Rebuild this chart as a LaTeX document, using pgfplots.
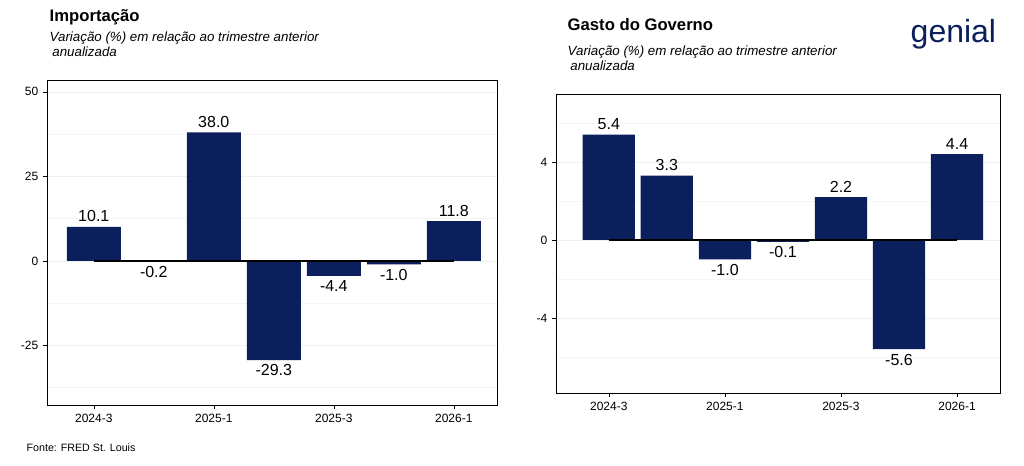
\documentclass[border=0pt]{standalone}
\usepackage{pgfplots}
\pgfplotsset{compat=1.18}
\usepackage{fontspec}
\setmainfont{Liberation Sans}
\definecolor{navy}{HTML}{0A1F5C}
\begin{document}
\begin{tikzpicture}[x=0.75pt,y=0.75pt]
\path (0,0) rectangle (1024,466);
\pgfplotsset{
 base/.style={scale only axis, axis line style={black}, tick align=outside,
  tick style={black}, major tick length=3pt, minor tick length=0pt, xtick pos=bottom, ytick pos=left,
  /pgf/number format/assume math mode=true,
  ticklabel style={font=\fontsize{9}{10}\selectfont},
  ymajorgrids, yminorgrids, major grid style={gray!12}, minor grid style={gray!8},
  xtick={0,2,4,6}, xticklabels={2024-3,2025-1,2025-3,2026-1},
  ybar, bar shift=0pt, bar width=0.9,
  nodes near coords, point meta=explicit symbolic,
  every node near coord/.append style={font=\fontsize{12}{13}\selectfont, black}},
}
\begin{axis}[base, at={(35.25pt,45.75pt)}, anchor=south west, width=337.5pt, height=243.75pt,
 xmin=-0.78, xmax=6.72, ymin=-42.6, ymax=53.5, ytick={-25,0,25,50}, minor ytick={-37.5,-12.5,12.5,37.5}]
\addplot[fill=navy, draw=none] coordinates {(0,10.1)[10.1] (2,38.0)[38.0] (6,11.8)[11.8]};
\addplot[fill=navy, draw=none, every node near coord/.append style={anchor=north}] coordinates {(1,-0.2)[-0.2] (3,-29.3)[-29.3] (4,-4.4)[-4.4] (5,-1.0)[-1.0]};
\addplot[sharp plot, black, line width=1.3pt, nodes near coords=, forget plot] coordinates {(0,0)(6,0)};
\end{axis}
\begin{axis}[base, at={(417pt,54.75pt)}, anchor=south west, width=333pt, height=224.25pt,
 xmin=-0.91, xmax=6.74, ymin=-7.85, ymax=7.49, ytick={-4,0,4}, minor ytick={-6,-2,2,6}]
\addplot[fill=navy, draw=none] coordinates {(0,5.4)[5.4] (1,3.3)[3.3] (4,2.2)[2.2] (6,4.4)[4.4]};
\addplot[fill=navy, draw=none, every node near coord/.append style={anchor=north}] coordinates {(2,-1.0)[-1.0] (3,-0.1)[-0.1] (5,-5.6)[-5.6]};
\addplot[sharp plot, black, line width=1.3pt, nodes near coords=, forget plot] coordinates {(0,0)(6,0)};
\end{axis}
\node[anchor=west, font=\fontsize{12.5}{14}\selectfont\bfseries] at (45,449) {Importação};
\node[anchor=north west, align=left, font=\fontsize{10}{11.5}\selectfont\itshape] at (45,439) {Variação (\%) em relação ao trimestre anterior\\ \hspace*{2pt}anualizada};
\node[anchor=west, font=\fontsize{12.5}{14}\selectfont\bfseries] at (563,441) {Gasto do Governo};
\node[anchor=north west, align=left, font=\fontsize{10}{11.5}\selectfont\itshape] at (563,425) {Variação (\%) em relação ao trimestre anterior\\ \hspace*{2pt}anualizada};
\node[anchor=west, font=\fontsize{8}{9}\selectfont] at (22,18) {Fonte: FRED St. Louis};
\node[anchor=west, text=navy, font=\fontsize{24}{26}\selectfont] at (906,432) {genial};
\end{tikzpicture}
\end{document}
